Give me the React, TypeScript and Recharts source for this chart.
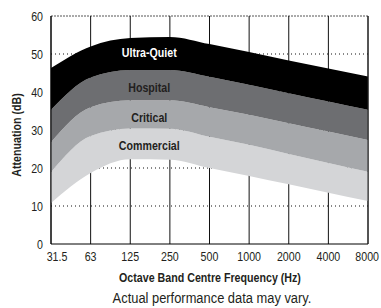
import React from 'react';
import { AreaChart, Area, LineChart, Line, XAxis, YAxis, ReferenceDot } from 'recharts';

const frequencies = ['31.5', '63', '125', '250', '500', '1000', '2000', '4000', '8000'];
const commercialLow = [10.8, 18.7, 22.3, 22.2, 20.0, 17.9, 15.7, 13.5, 11.3];
const commercialHigh = [18.9, 28.4, 30.4, 30.3, 28.2, 26.1, 23.7, 21.3, 19.0];
const criticalHigh = [26.8, 36.0, 37.8, 37.8, 36.0, 34.0, 31.8, 29.6, 27.4];
const hospitalHigh = [35.3, 43.8, 45.8, 45.8, 44.0, 41.9, 39.7, 37.5, 35.3];
const ultraQuietHigh = [46.3, 52.0, 54.2, 54.5, 52.6, 50.5, 48.3, 46.2, 44.1];
const yTicks = [0, 10, 20, 30, 40, 50, 60];
const dottedGridValues = [10, 20, 30, 40, 50];
const topValue = 60;

const bandNames = ['Ultra-Quiet', 'Hospital', 'Critical', 'Commercial'];
const bandLabelY = [50.3, 41.3, 33.4, 26.0];
const bandLabelColors = ['#ffffff', '#231f20', '#231f20', '#231f20'];

const data = frequencies.map((f, i) => ({
  freq: f,
  commercial: [commercialLow[i], commercialHigh[i]],
  critical: [commercialHigh[i], criticalHigh[i]],
  hospital: [criticalHigh[i], hospitalHigh[i]],
  ultra: [hospitalHigh[i], ultraQuietHigh[i]],
}));

const gridData = frequencies.map((f) => {
  const row: any = { freq: f, top: topValue };
  dottedGridValues.forEach((v) => {
    row['g' + v] = v;
  });
  return row;
});

const FONT = "'Liberation Sans', Arial, sans-serif";
const TEXT = '#231f20';
const SX = 0.82;
const W = 381;
const H = 308;
const X_AXIS_H = 20;
const MARGIN = { top: 16, right: 13, bottom: 44, left: 0 };
const PLOT_H = H - MARGIN.top - MARGIN.bottom - X_AXIS_H;
const layerStyle: React.CSSProperties = { position: 'absolute', left: 0, top: 0 };

const XTick = (props: any) => {
  const { x, y, payload, index } = props;
  const last = index === frequencies.length - 1;
  const dx = index === 0 ? 6 : last ? 11 : 0;
  return (
    <g transform={`translate(${x + dx},${y}) scale(${SX},1)`}>
      <text x={0} y={0} dy="0.71em" textAnchor={last ? 'end' : 'middle'} fill={TEXT} fontSize={13} fontFamily={FONT}>
        {payload.value}
      </text>
    </g>
  );
};

const YTick = (props: any) => {
  const { x, y, payload } = props;
  return (
    <g transform={`translate(${x},${y}) scale(${SX},1)`}>
      <text x={0} y={0} dy="0.35em" textAnchor="end" fill={TEXT} fontSize={13} fontFamily={FONT}>
        {payload.value}
      </text>
    </g>
  );
};

function BandText(props: any) {
  const vb = props.viewBox || {};
  const cx = (vb.x ?? 0) + (vb.width ?? 0) / 2 + 19;
  const cy = (vb.y ?? 0) + (vb.height ?? 0) / 2;
  return (
    <g transform={`translate(${cx},${cy}) scale(${SX},1)`}>
      <text x={0} y={0} dy="0.35em" textAnchor="middle" fill={props.fill} fontSize={13} fontWeight="bold" fontFamily={FONT}>
        {props.value}
      </text>
    </g>
  );
}

// vertical grid line hanging from each point of the top border line
function VerticalGridDot(props: any) {
  const { cx, cy } = props;
  if (cx == null || cy == null) return null;
  return <line x1={cx} x2={cx} y1={cy} y2={cy + PLOT_H} stroke="#111" strokeWidth={1} />;
}

const xTickEl = <XTick />;
const yTickEl = <YTick />;
const vDotEl = <VerticalGridDot />;
const bandLabels = bandNames.map((name, i) => ({ value: name, fill: bandLabelColors[i], content: BandText }));

export default function App() {
  return (
    <div style={{ position: 'absolute', left: 0, top: 0, width: W, height: H, background: '#fff' }}>
      {/* lower layer: grid drawn as series so the bands above can cover it */}
      <div style={layerStyle}>
        <LineChart width={W} height={H} data={gridData} margin={MARGIN}>
          <XAxis dataKey="freq" scale="point" padding={{ left: 0, right: 0 }} interval={0} tickLine={false} axisLine={false} tick={false} height={X_AXIS_H} />
          <YAxis type="number" domain={[0, 60]} ticks={yTicks} width={51} tickLine={false} axisLine={false} tick={false} />
          {dottedGridValues.map((v) => (
            <Line
              key={v}
              type="linear"
              dataKey={'g' + v}
              stroke="#111"
              strokeWidth={1}
              strokeDasharray="1 3"
              dot={false}
              activeDot={false}
              isAnimationActive={false}
            />
          ))}
          <Line
            type="linear"
            dataKey="top"
            stroke="#555"
            strokeWidth={1}
            strokeDasharray="2 1"
            dot={vDotEl}
            activeDot={false}
            isAnimationActive={false}
          />
        </LineChart>
      </div>
      {/* upper layer: bands, axes, labels */}
      <div style={layerStyle}>
        <AreaChart width={W} height={H} data={data} margin={{ top: 16, right: 12, bottom: 44, left: 0 }}>
          <XAxis
            dataKey="freq"
            scale="point"
            padding={{ left: 0, right: 0 }}
            interval={0}
            tickLine={false}
            axisLine={{ stroke: '#000' }}
            tick={xTickEl}
            height={X_AXIS_H}
          />
          <YAxis
            type="number"
            domain={[0, 60]}
            ticks={yTicks}
            width={51}
            tickLine={false}
            axisLine={{ stroke: '#000' }}
            tick={yTickEl}
          />
          <YAxis
            yAxisId="right"
            orientation="right"
            type="number"
            domain={[0, 60]}
            width={1}
            tickLine={false}
            tick={false}
            axisLine={{ stroke: '#222' }}
          />
          <Area type="monotone" dataKey="commercial" stroke="none" fill="#d4d5d7" fillOpacity={1} isAnimationActive={false} />
          <Area type="monotone" dataKey="critical" stroke="none" fill="#a6a8ab" fillOpacity={1} isAnimationActive={false} />
          <Area type="monotone" dataKey="hospital" stroke="none" fill="#6d6e71" fillOpacity={1} isAnimationActive={false} />
          <Area type="monotone" dataKey="ultra" stroke="none" fill="#000000" fillOpacity={1} isAnimationActive={false} />
          {bandNames.map((name, i) => (
            <ReferenceDot key={name} x="125" y={bandLabelY[i]} r={1} fill="none" stroke="none" label={bandLabels[i]} />
          ))}
        </AreaChart>
      </div>
      <div
        style={{
          position: 'absolute',
          left: 17,
          top: 135,
          transform: 'translate(-50%, -50%) rotate(-90deg) scaleX(0.82)',
          whiteSpace: 'nowrap',
          fontFamily: FONT,
          fontWeight: 'bold',
          fontSize: 13,
          color: TEXT,
          lineHeight: '14px',
        }}
      >
        Attenuation (dB)
      </div>
      <div
        style={{
          position: 'absolute',
          left: 210,
          top: 278,
          transform: 'translate(-50%, -50%) scaleX(0.82)',
          whiteSpace: 'nowrap',
          fontFamily: FONT,
          fontWeight: 'bold',
          fontSize: 13,
          color: TEXT,
          lineHeight: '14px',
        }}
      >
        Octave Band Centre Frequency (Hz)
      </div>
      <div
        style={{
          position: 'absolute',
          left: 212,
          top: 298,
          transform: 'translate(-50%, -50%) scaleX(0.92)',
          whiteSpace: 'nowrap',
          fontFamily: FONT,
          fontSize: 14,
          color: TEXT,
          lineHeight: '14px',
        }}
      >
        Actual performance data may vary.
      </div>
    </div>
  );
}
